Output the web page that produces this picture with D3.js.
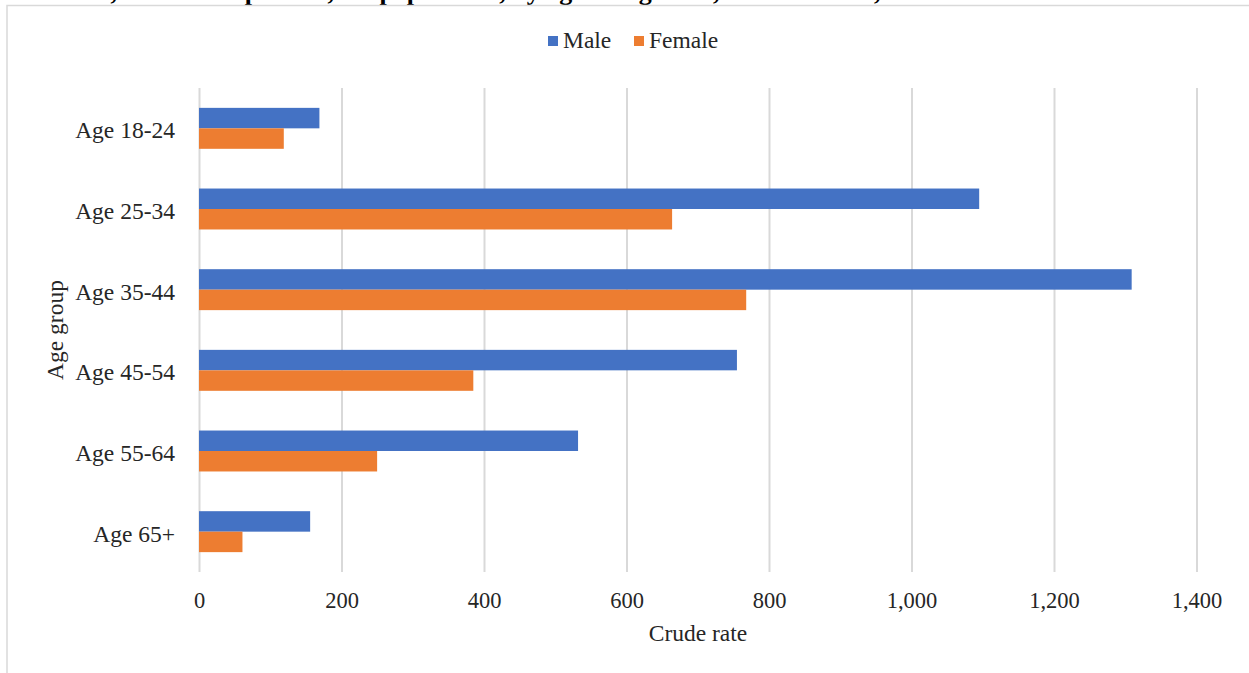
<!DOCTYPE html>
<html>
<head>
<meta charset="utf-8">
<script src="https://d3js.org/d3.v7.min.js"></script>
<style>
  body { margin: 0; background: #fff; }
  text { font-family: "Liberation Serif", "Times New Roman", serif; fill: #262626; }
</style>
</head>
<body>
<div id="chart"></div>
<script>
  // data
  const ageGroups = ["Age 18-24", "Age 25-34", "Age 35-44", "Age 45-54", "Age 55-64", "Age 65+"];
  const series = ["Male", "Female"];
  const maleRate = [169, 1095, 1309, 755, 532, 156];
  const femaleRate = [119, 664, 768, 385, 250, 61];
  const xTicks = [0, 200, 400, 600, 800, 1000, 1200, 1400];
  const colors = ["#4472C4", "#ED7D31"];

  const W = 1249, H = 673;
  const plot = {left: 199, right: 1196.5, top: 88, bottom: 572};

  const rows = ageGroups.map((g, i) => ({group: g, Male: maleRate[i], Female: femaleRate[i]}));

  const svg = d3.select("#chart").append("svg")
      .attr("width", W)
      .attr("height", H);

  // title of the page above, cut off at the top edge
  svg.append("text")
      .attr("x", 34)
      .attr("y", 0)
      .style("font-size", "26px")
      .style("font-weight", "bold")
      .style("fill", "#000")
      .text("Deaths, crude rate per 100,000 population, by age and gender, United States, 2020");

  // chart frame
  svg.append("rect")
      .attr("x", 7)
      .attr("y", 5.5)
      .attr("width", W + 20)
      .attr("height", H + 20)
      .attr("fill", "none")
      .attr("stroke", "#d9d9d9")
      .attr("stroke-width", 1.5);

  const x = d3.scaleLinear()
      .domain([0, 1400])
      .range([plot.left, plot.right]);

  const y = d3.scaleBand()
      .domain(ageGroups)
      .range([plot.top, plot.bottom])
      .paddingInner(0)
      .paddingOuter(0);

  const ySub = d3.scaleBand()
      .domain(series)
      .range([0, y.bandwidth()])
      .paddingInner(0)
      .paddingOuter(0.97);

  const color = d3.scaleOrdinal().domain(series).range(colors);

  // grid lines
  const grid = svg.append("g")
      .attr("transform", `translate(0, ${plot.bottom})`)
      .call(d3.axisBottom(x).tickValues(xTicks).tickSize(-(plot.bottom - plot.top)).tickFormat(""));
  grid.select(".domain").remove();
  grid.selectAll(".tick line")
      .attr("stroke", "#d9d9d9")
      .attr("stroke-width", 2);

  // x tick labels
  const xAxis = svg.append("g")
      .attr("transform", `translate(0, ${plot.bottom})`)
      .call(d3.axisBottom(x).tickValues(xTicks).tickSize(0).tickFormat(d3.format(",")));
  xAxis.select(".domain").remove();
  xAxis.selectAll("text")
      .attr("y", 36)
      .attr("dy", 0)
      .style("font-size", "22.5px")
      .style("font-family", "Liberation Serif, serif")
      .attr("fill", "#262626");

  // category labels
  const yAxis = svg.append("g")
      .attr("transform", `translate(${plot.left}, 0)`)
      .call(d3.axisLeft(y).tickSize(0).tickPadding(24));
  yAxis.select(".domain").remove();
  yAxis.selectAll("text")
      .attr("dy", "0.42em")
      .style("font-size", "23.5px")
      .style("font-family", "Liberation Serif, serif")
      .attr("fill", "#262626");

  // bars
  const groups = svg.append("g")
      .selectAll("g")
      .data(rows)
      .join("g")
      .attr("transform", d => `translate(0, ${y(d.group)})`);

  groups.selectAll("rect")
      .data(d => series.map(s => ({key: s, value: d[s]})))
      .join("rect")
      .attr("x", x(0))
      .attr("y", d => ySub(d.key))
      .attr("width", d => x(d.value) - x(0))
      .attr("height", ySub.bandwidth())
      .attr("fill", d => color(d.key));

  // axis titles
  svg.append("text")
      .attr("x", 698)
      .attr("y", 641)
      .attr("text-anchor", "middle")
      .style("font-size", "23.5px")
      .text("Crude rate");

  svg.append("text")
      .attr("transform", `translate(63, ${(plot.top + plot.bottom) / 2}) rotate(-90)`)
      .attr("text-anchor", "middle")
      .style("font-size", "23.5px")
      .text("Age group");

  // legend
  const legend = svg.append("g")
      .selectAll("g")
      .data(series)
      .join("g")
      .attr("transform", (d, i) => `translate(${[548, 634][i]}, 36)`);

  legend.append("rect")
      .attr("width", 10)
      .attr("height", 10)
      .attr("fill", d => color(d));

  legend.append("text")
      .attr("x", 15)
      .attr("y", 12)
      .style("font-size", "23.5px")
      .text(d => d);
</script>
</body>
</html>
